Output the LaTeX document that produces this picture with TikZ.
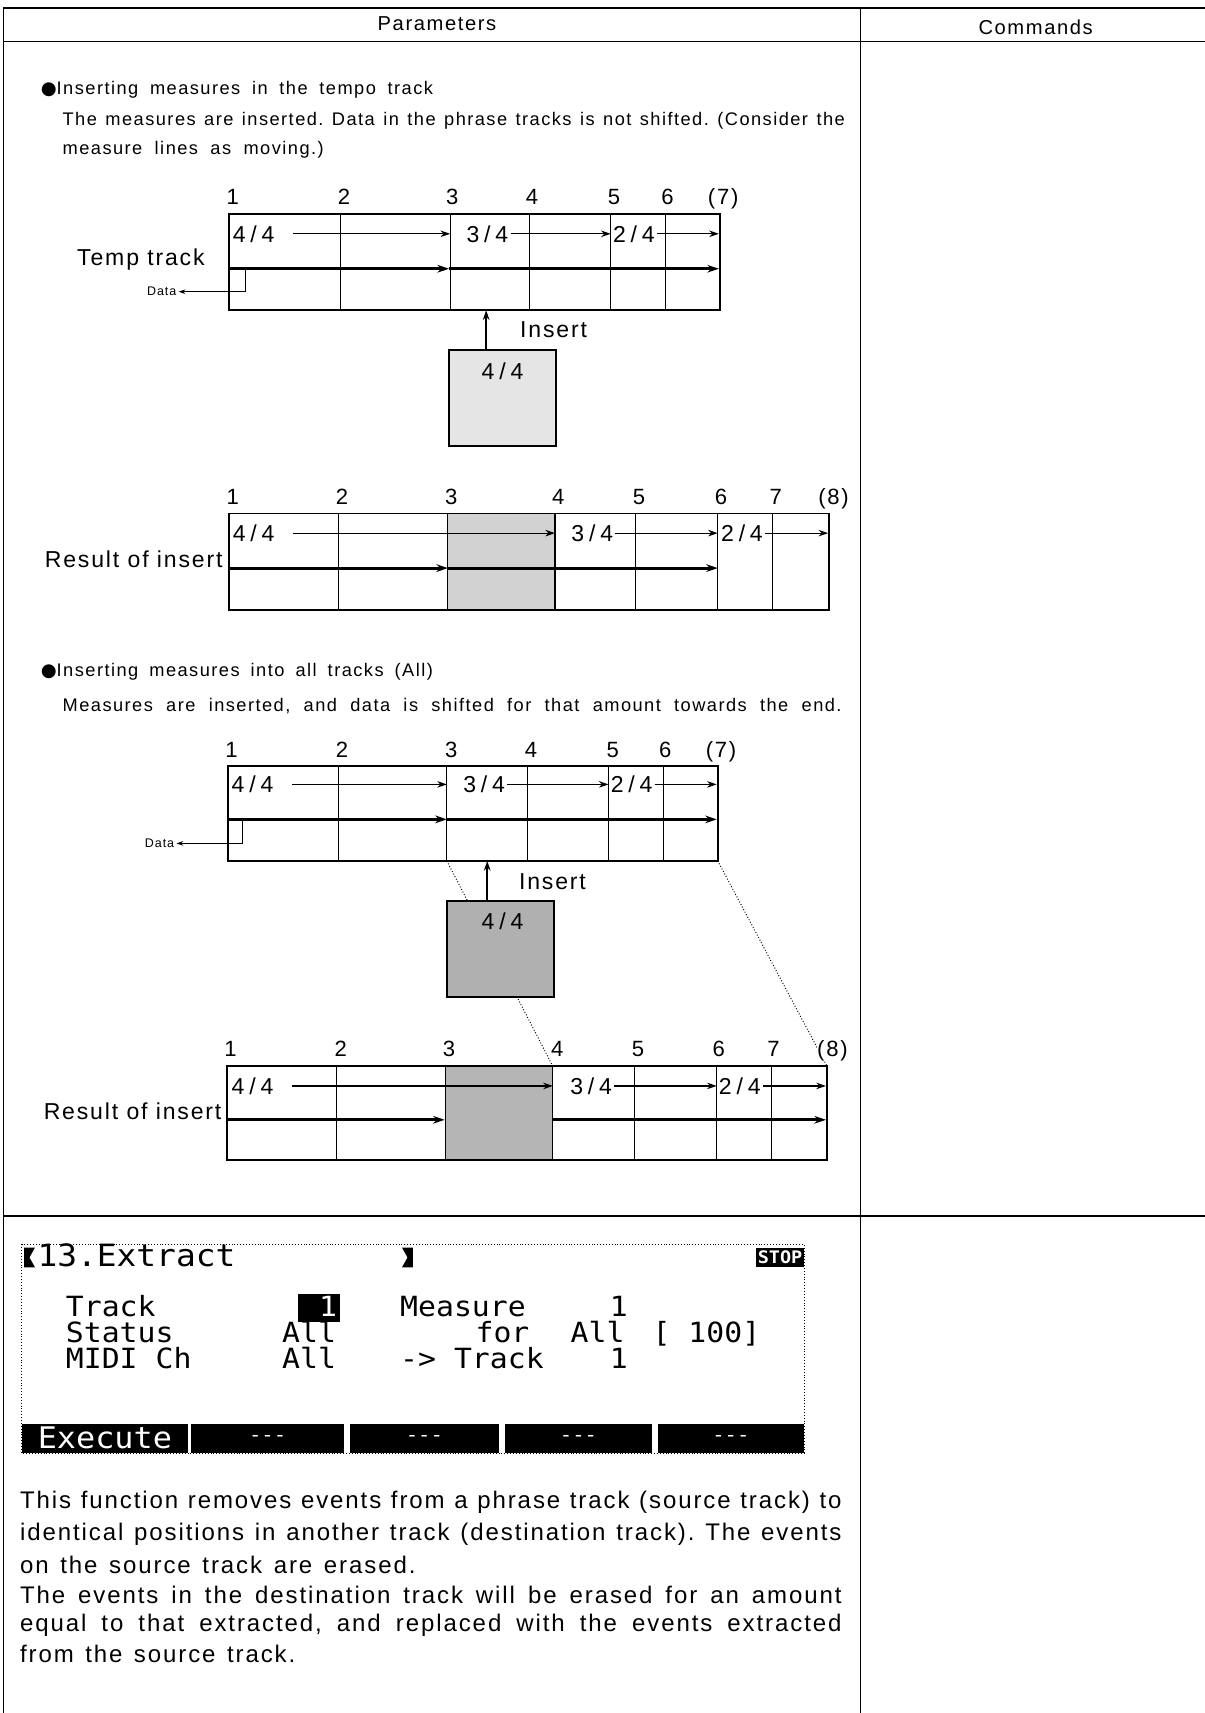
\documentclass[tikz,border=0pt]{standalone}
\usepackage{fontspec}
\setmainfont{Liberation Sans}[LetterSpace=8]
\newfontfamily\lcdfont{DejaVu Sans Mono}[FakeStretch=1.07]
\newfontfamily\symfont{DejaVu Sans}
\usetikzlibrary{arrows.meta, positioning, calc}
\frenchspacing

\newcommand{\spread}[2]{\makebox[#1][s]{#2}}
\newcommand{\meter}[2]{#1\kern2.5pt/\kern2.5pt#2}

\tikzset{
    manualpage/.style={x=0.2mm, y=-0.2mm, >={Stealth[length=5pt, width=3.4pt]}},
    rule/.style={line width=0.9pt},
    trackbox/.style={line width=1pt},
    bar/.style={line width=0.6pt},
    beat/.style={->, line width=0.6pt},
    flow/.style={->, line width=1.5pt, >={Stealth[length=6pt, width=4pt]}},
    dataline/.style={->, line width=0.5pt, >={Stealth[length=3.5pt, width=2.4pt]}},
    insarrow/.style={->, line width=0.8pt},
    guide/.style={densely dotted, line width=0.5pt},
    num/.style={anchor=base, inner sep=0pt, font=\fontsize{11.5}{13}\selectfont},
    sig/.style={anchor=west, inner sep=1pt, font=\fontsize{12}{14}\selectfont},
    tracklabel/.style={inner sep=0pt, font=\fontsize{12}{14}\selectfont},
    datalabel/.style={inner sep=1pt, font=\fontsize{6.5}{7}\selectfont},
    heading/.style={anchor=west, inner sep=0pt, font=\fontsize{9.5}{11}\selectfont},
    para/.style={anchor=west, inner sep=0pt, font=\fontsize{9.5}{11}\selectfont},
    bodytext/.style={anchor=west, inner sep=0pt, font=\fontsize{12.5}{14}\selectfont},
    insertbox/.style={draw, line width=1pt, minimum width=19.6mm, minimum height=17.6mm, inner sep=0pt},
    lcd/.style={anchor=west, inner sep=0pt, text height=10pt, text depth=1pt,
        font=\lcdfont\fontsize{14.5}{14.5}\selectfont},
    softkey/.style={fill=black, text=white, minimum height=5.4mm, inner sep=0pt, font=\lcdfont\fontsize{15.5}{15.5}\selectfont},
}

\begin{document}
\begin{tikzpicture}[manualpage]
    \useasboundingbox (0,0) rectangle (1103,1568);

    % table rules
    \draw[rule] (3,7) -- (1103,7);
    \draw[rule] (3,38) -- (1103,38);
    \draw[rule] (3,1113) -- (1103,1113);
    \draw[line width=0.6pt] (3,7) -- (3,1568);
    \draw[line width=0.6pt] (788,7) -- (788,1568);
    \node[font=\fontsize{10.5}{12}\selectfont] (colpar) at (400,22) {Parameters};
    \node[font=\fontsize{10.5}{12}\selectfont] (colcmd) at (948,25) {Commands};

    % insert into the tempo track only
    \node[heading] (headtempo) at (37,82) {\spread{71.8mm}{{\symfont ●}Inserting measures in the tempo track}};
    \node[para] (tempo1) at (57,111) {\spread{143.2mm}{The measures are inserted. Data in the phrase tracks is not shifted. (Consider the}};
    \node[para] (tempo2) at (57,137) {\spread{47.8mm}{measure lines as moving.)}};

    \draw[trackbox] (210,196) rectangle (659,284);
    \draw[bar] (312,196) -- (312,284) (412,196) -- (412,284) (485,196) -- (485,284)
               (559,196) -- (559,284) (609,196) -- (609,284);
    \node[num] (ta1) at (213,187) {1};
    \node[num] (ta2) at (315,187) {2};
    \node[num] (ta3) at (414,187) {3};
    \node[num] (ta4) at (487,187) {4};
    \node[num] (ta5) at (562,187) {5};
    \node[num] (ta6) at (611,187) {6};
    \node[num] (ta7) at (662,187) {(7)};
    \node[sig] (tas1) at (211,214) {\meter44};
    \node[sig] (tas2) at (425,214) {\meter34};
    \node[sig] (tas3) at (559,214) {\meter24};
    \coordinate (tab3) at (412,214);
    \coordinate (tab5) at (559,214);
    \coordinate (tab7) at (658,214);
    \draw[beat, shorten <=3mm] (tas1) -- (tab3);
    \draw[beat] (tas2) -- (tab5);
    \draw[beat] (tas3) -- (tab7);
    \coordinate (tam0) at (210,246);
    \coordinate (tam3) at (411,246);
    \coordinate (tam7) at (658,246);
    \draw[flow] (tam0) -- (tam3);
    \draw[flow] (tam3) -- (tam7);
    \node[tracklabel] (tatrack) at (129,238) {Temp track};
    \node[datalabel] (tadata) at (148,267) {Data};
    \coordinate (tatap) at (225,246);
    \draw[dataline] (tatap) |- (tadata);

    \node[insertbox, fill=gray!20] (tains) at (460,364) {};
    \node[sig, anchor=center] (tainsig) at (460,340) {\meter44};
    \coordinate (tainsat) at (445,284);
    \draw[insarrow] (tains.north -| tainsat) -- (tainsat);
    \node[sig] (tainslbl) at (474,302) {Insert};

    % result, tempo track only
    \fill[gray!35] (410,470) rectangle (508,558);
    \draw[trackbox] (210,470) rectangle (759,558);
    \draw[bar] (310,470) -- (310,558) (410,470) -- (410,558) (508,470) -- (508,558)
               (582,470) -- (582,558) (657,470) -- (657,558) (707,470) -- (707,558);
    \node[num] (ra1) at (213,462) {1};
    \node[num] (ra2) at (313,462) {2};
    \node[num] (ra3) at (413,462) {3};
    \node[num] (ra4) at (511,462) {4};
    \node[num] (ra5) at (585,462) {5};
    \node[num] (ra6) at (660,462) {6};
    \node[num] (ra7) at (710,462) {7};
    \node[num] (ra8) at (763,462) {(8)};
    \node[sig] (ras1) at (211,488) {\meter44};
    \node[sig] (ras2) at (521,488) {\meter34};
    \node[sig] (ras3) at (658,488) {\meter24};
    \coordinate (rab4) at (508,488);
    \coordinate (rab6) at (657,488);
    \coordinate (rab8) at (758,488);
    \draw[beat, shorten <=3mm] (ras1) -- (rab4);
    \draw[beat] (ras2) -- (rab6);
    \draw[beat] (ras3) -- (rab8);
    \coordinate (ram0) at (210,520);
    \coordinate (ram3) at (410,520);
    \coordinate (ram6) at (657,520);
    \draw[flow] (ram0) -- (ram3);
    \draw[flow] (ram3) -- (ram6);
    \node[tracklabel, anchor=east] (ratrack) at (204,512) {Result of insert};

    % insert into all tracks
    \node[heading] (headall) at (37,615) {\spread{71.8mm}{{\symfont ●}Inserting measures into all tracks (All)}};
    \node[para] (all1) at (57,646) {\spread{142.6mm}{Measures are inserted, and data is shifted for that amount towards the end.}};

    \draw[trackbox] (209,701) rectangle (657,788);
    \draw[bar] (310,701) -- (310,788) (409,701) -- (409,788) (483,701) -- (483,788)
               (557,701) -- (557,788) (607,701) -- (607,788);
    \node[num] (tb1) at (212,693) {1};
    \node[num] (tb2) at (313,693) {2};
    \node[num] (tb3) at (413,693) {3};
    \node[num] (tb4) at (486,693) {4};
    \node[num] (tb5) at (561,693) {5};
    \node[num] (tb6) at (609,693) {6};
    \node[num] (tb7) at (660,693) {(7)};
    \node[sig] (tbs1) at (210,718) {\meter44};
    \node[sig] (tbs2) at (422,718) {\meter34};
    \node[sig] (tbs3) at (557,718) {\meter24};
    \coordinate (tbb3) at (409,718);
    \coordinate (tbb5) at (557,718);
    \coordinate (tbb7) at (656,718);
    \draw[beat, shorten <=3mm] (tbs1) -- (tbb3);
    \draw[beat] (tbs2) -- (tbb5);
    \draw[beat] (tbs3) -- (tbb7);
    \coordinate (tbm0) at (209,750);
    \coordinate (tbm3) at (409,750);
    \coordinate (tbm7) at (656,750);
    \draw[flow] (tbm0) -- (tbm3);
    \draw[flow] (tbm3) -- (tbm7);
    \node[datalabel] (tbdata) at (146,772) {Data};
    \coordinate (tbtap) at (222,750);
    \draw[dataline] (tbtap) |- (tbdata);

    % where the inserted measure lands
    \coordinate (tbg3) at (409,788);
    \coordinate (tbg7) at (657,788);
    \coordinate (rbg4) at (506,976);
    \coordinate (rbg8) at (757,976);
    \draw[guide] (tbg3) -- (rbg4);
    \draw[guide] (tbg7) -- (rbg8);

    \node[insertbox, fill=gray!62] (tbins) at (458.5,868.5) {};
    \node[sig, anchor=center] (tbinsig) at (460,843) {\meter44};
    \coordinate (tbinsat) at (446,788);
    \draw[insarrow] (tbins.north -| tbinsat) -- (tbinsat);
    \node[sig] (tbinslbl) at (473,807) {Insert};

    % result, all tracks
    \fill[gray!58] (408,976) rectangle (506,1062);
    \draw[trackbox] (208,976) rectangle (757,1062);
    \draw[bar] (308,976) -- (308,1062) (408,976) -- (408,1062) (506,976) -- (506,1062)
               (581,976) -- (581,1062) (656,976) -- (656,1062) (706,976) -- (706,1062);
    \node[num] (rb1) at (211,967) {1};
    \node[num] (rb2) at (312,967) {2};
    \node[num] (rb3) at (411,967) {3};
    \node[num] (rb4) at (510,967) {4};
    \node[num] (rb5) at (584,967) {5};
    \node[num] (rb6) at (658,967) {6};
    \node[num] (rb7) at (708,967) {7};
    \node[num, fill=white] (rb8) at (762,967) {(8)};
    \node[sig] (rbs1) at (210,994) {\meter44};
    \node[sig] (rbs2) at (520,994) {\meter34};
    \node[sig] (rbs3) at (656,994) {\meter24};
    \coordinate (rbb4) at (506,994);
    \coordinate (rbb6) at (656,994);
    \coordinate (rbb8) at (756,994);
    \draw[beat, shorten <=3mm] (rbs1) -- (rbb4);
    \draw[beat] (rbs2) -- (rbb6);
    \draw[beat] (rbs3) -- (rbb8);
    \coordinate (rbm0) at (208,1025);
    \coordinate (rbm3) at (407,1025);
    \coordinate (rbm4) at (506,1025);
    \coordinate (rbm8) at (756,1025);
    \draw[flow] (rbm0) -- (rbm3);
    \draw[flow] (rbm4) -- (rbm8);
    \node[tracklabel, anchor=east] (rbtrack) at (203,1017) {Result of insert};

    % LCD screen of the extract job
    \draw[densely dotted, line width=0.5pt] (20,1139) rectangle (736,1330);
    \fill (22,1142) -- (32,1142) -- (27,1151) -- (32,1160) -- (22,1160) -- cycle;
    \fill (368,1142) -- (378,1142) -- (378,1160) -- (368,1160) -- (373,1151) -- cycle;
    \node[lcd, font=\lcdfont\fontsize{16}{16}\selectfont] (lcdtitle) at (34,1151) {13.Extract};
    \node[fill=black, text=white, minimum width=8.8mm, minimum height=3.4mm, inner sep=0pt,
          font=\lcdfont\bfseries\fontsize{9}{9}\selectfont] (lcdstop) at (714,1151) {STOP};

    \node[lcd] (lcdtrk) at (60,1197) {Track};
    \node[fill=black, text=white, text width=6.6mm, align=right, minimum height=5.2mm, inner sep=0.5mm,
          text height=10pt, text depth=1pt, font=\lcdfont\fontsize{14.5}{14.5}\selectfont] (lcdtrkval) at (292,1197) {1};
    \node[lcd] (lcdmeas) at (366,1197) {Measure};
    \node[lcd] (lcdmeasval) at (558,1197) {1};
    \node[lcd] (lcdstat) at (60,1221) {Status};
    \node[lcd] (lcdstatval) at (258,1221) {All};
    \node[lcd] (lcdfor) at (435,1221) {for};
    \node[lcd] (lcdforval) at (522,1221) {All};
    \node[lcd] (lcdcount) at (597,1221) {[ 100]};
    \node[lcd] (lcdch) at (60,1245) {MIDI Ch};
    \node[lcd] (lcdchval) at (258,1245) {All};
    \node[lcd] (lcddest) at (366,1245) {-> Track};
    \node[lcd] (lcddestval) at (558,1245) {1};

    \node[softkey, minimum width=30.4mm] (keyexec) at (96,1316.5) {Execute};
    \node[softkey, minimum width=28mm, font=\lcdfont\fontsize{10}{10}\selectfont] (keytwo) at (245,1316.5) {---};
    \node[softkey, minimum width=27.4mm, font=\lcdfont\fontsize{10}{10}\selectfont] (keythree) at (388.5,1316.5) {---};
    \node[softkey, minimum width=27mm, font=\lcdfont\fontsize{10}{10}\selectfont] (keyfour) at (529.5,1316.5) {---};
    \node[softkey, minimum width=26.8mm, font=\lcdfont\fontsize{10}{10}\selectfont] (keyfive) at (669,1316.5) {---};

    % description
    \node[bodytext] (desc1) at (18,1375) {\spread{150.4mm}{This function removes events from a phrase track (source track) to}};
    \node[bodytext] (desc2) at (18,1404) {\spread{150.4mm}{identical positions in another track (destination track). The events}};
    \node[bodytext] (desc3) at (18,1432) {\spread{72.4mm}{on the source track are erased.}};
    \node[bodytext] (desc4) at (18,1460) {\spread{150.4mm}{The events in the destination track will be erased for an amount}};
    \node[bodytext] (desc5) at (18,1488) {\spread{150.4mm}{equal to that extracted, and replaced with the events extracted}};
    \node[bodytext] (desc6) at (18,1514) {\spread{50.4mm}{from the source track.}};
\end{tikzpicture}
\end{document}
